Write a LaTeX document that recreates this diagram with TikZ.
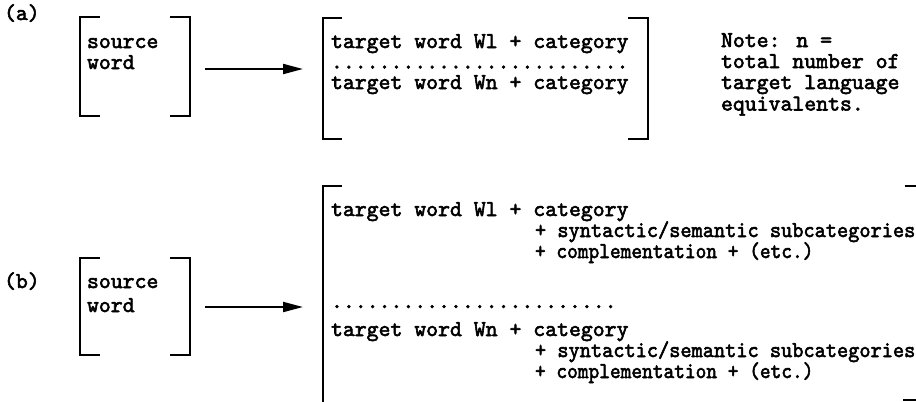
\documentclass[tikz,border=0pt]{standalone}
\usepackage{fontspec}
\newfontfamily\tw[FakeBold=2.5, SizeFeatures={{Size={1-}}}]{lmmono10-regular.otf}
\usetikzlibrary{arrows.meta}

\begin{document}
\begin{tikzpicture}[x=0.75pt, y=-0.75pt,
  txt/.style={anchor=base west, inner sep=0pt, outer sep=0pt,
              font=\tw\fontsize{17pt}{20pt}\selectfont},
  frame/.style={inner sep=0pt, outer sep=0pt, anchor=north west},
  brk/.style={line width=1.5pt},
  arr/.style={line width=1.5pt, -{Triangle[length=15pt, width=7.5pt]}}]

\useasboundingbox (0,0) rectangle (916,401);
\clip (0,0) rectangle (916,401);

% ---------- (a) ----------
\node[txt] (la) at (4,20) {(a)};

\node[frame, minimum width=82.5pt, minimum height=74.25pt] (srcA) at (80,17) {};
\draw[brk] ([xshift=15pt]srcA.north west) -- (srcA.north west)
           -- (srcA.south west) -- ([xshift=15pt]srcA.south west);
\draw[brk] ([xshift=-15pt]srcA.north east) -- (srcA.north east)
           -- (srcA.south east) -- ([xshift=-15pt]srcA.south east);
\node[txt] (srcA1) at (87,48) {source};
\node[txt] (srcA2) at (87,69) {word};

\node[frame, minimum width=243.75pt, minimum height=90.75pt] (tgtA) at (323,18) {};
\draw[brk] ([xshift=14pt]tgtA.north west) -- (tgtA.north west)
           -- (tgtA.south west) -- ([xshift=14pt]tgtA.south west);
\draw[brk] ([xshift=-15pt]tgtA.north east) -- (tgtA.north east)
           -- (tgtA.south east) -- ([xshift=-15pt]tgtA.south east);
\node[txt] (tA1) at (331,48) {target word Wl + category};
\node[txt] (tA2) at (331,68.5) {.........................};
\node[txt] (tA3) at (331,89) {target word Wn + category};

\coordinate (aA) at ([shift={(15,2.5)}]srcA.east);
\draw[arr] (aA) -- ([xshift=-15pt]aA -| tgtA.west);

\node[txt] (n1) at (721,47) {Note: n =};
\node[txt] (n2) at (721,68) {total number of};
\node[txt] (n3) at (721,89) {target language};
\node[txt] (n4) at (721,110.5) {equivalents.};

% ---------- (b) ----------
\node[txt] (lb) at (4,288) {(b)};

\node[frame, minimum width=82.5pt, minimum height=72.75pt] (srcB) at (80,258) {};
\draw[brk] ([xshift=15pt]srcB.north west) -- (srcB.north west)
           -- (srcB.south west) -- ([xshift=15pt]srcB.south west);
\draw[brk] ([xshift=-15pt]srcB.north east) -- (srcB.north east)
           -- (srcB.south east) -- ([xshift=-15pt]srcB.south east);
\node[txt] (srcB1) at (87,288) {source};
\node[txt] (srcB2) at (87,312) {word};

\node[frame, minimum width=446.25pt, minimum height=160.5pt] (tgtB) at (323,186) {};
\draw[brk] ([xshift=14pt]tgtB.north west) -- (tgtB.north west)
           -- ([yshift=-6pt]tgtB.south west);
\draw[brk] ([xshift=-10pt]tgtB.north east) -- (tgtB.north east)
           -- (tgtB.south east) -- ([xshift=-11pt]tgtB.south east);

\node[txt] (tB1) at (331,216) {target word Wl + category};
\node[txt] (tB2) at (535,237) {\scalebox{0.94}[1]{+ syntactic/semantic subcategories}};
\node[txt] (tB3) at (535,258) {\scalebox{0.9}[1]{+ complementation + (etc.)}};
\node[txt] (tB4) at (331,308) {........................};
\node[txt] (tB5) at (331,336) {target word Wn + category};
\node[txt] (tB6) at (535,357) {\scalebox{0.94}[1]{+ syntactic/semantic subcategories}};
\node[txt] (tB7) at (535,378) {\scalebox{0.9}[1]{+ complementation + (etc.)}};

\coordinate (aB) at ([shift={(15,0.5)}]srcB.east);
\draw[arr] (aB) -- ([xshift=-15pt]aB -| tgtB.west);

\end{tikzpicture}
\end{document}
